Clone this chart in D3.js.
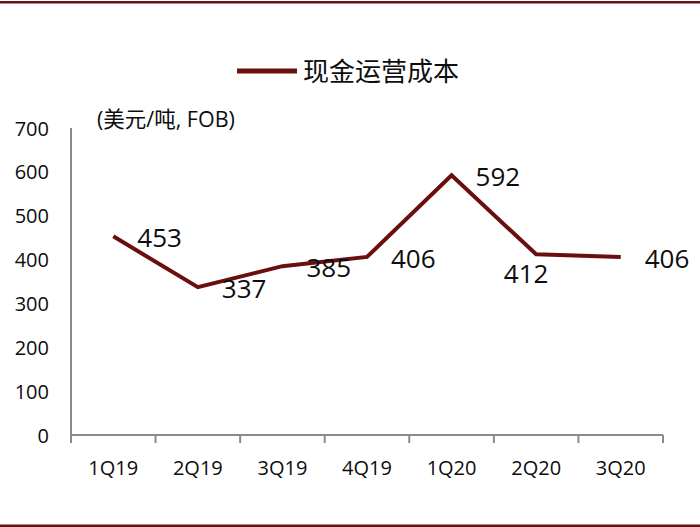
<!DOCTYPE html>
<html>
<head>
<meta charset="utf-8">
<script src="https://cdn.jsdelivr.net/npm/d3@7"></script>
<style>
  body { margin: 0; background: #fff; }
  svg { display: block; }
  text { font-family: 'Open Sans', 'Noto Sans CJK SC', sans-serif; fill: #0d0d0d; }
</style>
</head>
<body>
<svg id="chart" width="700" height="527"></svg>
<script>
// data
var quarters = ['1Q19', '2Q19', '3Q19', '4Q19', '1Q20', '2Q20', '3Q20'];
var cashCost = [453, 337, 385, 406, 592, 412, 406];
var labelSide = ['right', 'right', 'right', 'right', 'right', 'below', 'right'];
var yTicks = [0, 100, 200, 300, 400, 500, 600, 700];
var seriesName = '现金运营成本';
var unitText = '(美元/吨, FOB)';

//common vars
var fv = {
	'top': 128,
	'left': 71,
	'right': 663,
	'bottom': 435,
	'lineColor': '#6b0e0e',
	'axisColor': '#8a8a8a'
};

var svg = d3.select('#chart');

//frame lines top and bottom
svg.append('rect').attr('x', 0).attr('y', 1).attr('width', 700).attr('height', 2.5).style('fill', '#6b1010');
svg.append('rect').attr('x', 0).attr('y', 524.5).attr('width', 700).attr('height', 2.5).style('fill', '#6b1010');

//scales
var x = d3.scaleBand()
	.domain(quarters)
	.range([fv.left, fv.right]);

var y = d3.scaleLinear()
	.domain([0, 700])
	.range([fv.bottom, fv.top]);

//y axis line and labels (no tick marks)
svg.append('line')
	.attr('x1', fv.left).attr('x2', fv.left)
	.attr('y1', y(700)).attr('y2', fv.bottom + 8)
	.style('stroke', fv.axisColor).style('stroke-width', 2);

svg.selectAll('.ytick')
	.data(yTicks)
	.enter().append('text')
	.attr('class', 'ytick')
	.attr('x', fv.left - 22)
	.attr('y', function(d) { return y(d); })
	.attr('text-anchor', 'end')
	.attr('dominant-baseline', 'central')
	.style('font-size', '20px')
	.text(function(d) { return d; });

//x axis
svg.append('line')
	.attr('x1', fv.left).attr('x2', fv.right)
	.attr('y1', fv.bottom).attr('y2', fv.bottom)
	.style('stroke', fv.axisColor).style('stroke-width', 2);

var xEdges = quarters.map(function(q) { return x(q); }).concat([fv.right]);
svg.selectAll('.xtickmark')
	.data(xEdges)
	.enter().append('line')
	.attr('class', 'xtickmark')
	.attr('x1', function(d) { return d; }).attr('x2', function(d) { return d; })
	.attr('y1', fv.bottom).attr('y2', fv.bottom + 8)
	.style('stroke', fv.axisColor).style('stroke-width', 2);

svg.selectAll('.xlabel')
	.data(quarters)
	.enter().append('text')
	.attr('class', 'xlabel')
	.attr('x', function(d) { return x(d) + x.bandwidth() / 2; })
	.attr('y', fv.bottom + 32)
	.attr('text-anchor', 'middle')
	.attr('dominant-baseline', 'central')
	.style('font-size', '20px')
	.text(function(d) { return d; });

//line
var line = d3.line()
	.x(function(d, i) { return x(quarters[i]) + x.bandwidth() / 2; })
	.y(function(d) { return y(d); });

svg.append('path')
	.datum(cashCost)
	.attr('d', line)
	.style('fill', 'none')
	.style('stroke', fv.lineColor)
	.style('stroke-width', 4)
	.style('stroke-linejoin', 'miter');

//data labels
svg.selectAll('.dlabel')
	.data(cashCost)
	.enter().append('text')
	.attr('class', 'dlabel')
	.attr('x', function(d, i) {
		var cx = x(quarters[i]) + x.bandwidth() / 2;
		return labelSide[i] === 'below' ? cx - 10 : cx + 24;
	})
	.attr('y', function(d, i) {
		return labelSide[i] === 'below' ? y(d) + 19 : y(d) + 1;
	})
	.attr('text-anchor', function(d, i) { return labelSide[i] === 'below' ? 'middle' : 'start'; })
	.attr('dominant-baseline', 'central')
	.style('font-size', '26px')
	.text(function(d) { return d; });

//legend
svg.append('line')
	.attr('x1', 237).attr('x2', 297)
	.attr('y1', 71).attr('y2', 71)
	.style('stroke', fv.lineColor).style('stroke-width', 5);

svg.append('text')
	.attr('x', 303)
	.attr('y', 71)
	.attr('dominant-baseline', 'central')
	.style('font-size', '26px')
	.text(seriesName);

//unit
svg.append('text')
	.attr('x', 97)
	.attr('y', 118)
	.attr('dominant-baseline', 'central')
	.style('font-size', '21.5px')
	.text(unitText);
</script>
</body>
</html>
